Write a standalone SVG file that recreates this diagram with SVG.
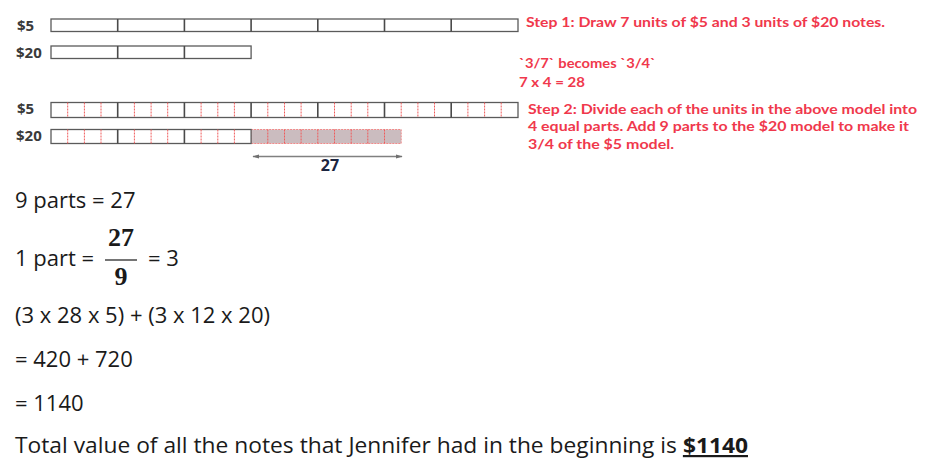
<svg xmlns="http://www.w3.org/2000/svg" width="927" height="468" viewBox="0 0 927 468">
<style>
.lbl{font-family:"Open Sans","Liberation Sans",sans-serif;font-weight:bold;font-size:15px;fill:#3a3a3a}
.bar{fill:#fff;stroke:#5a5a5a;stroke-width:1.3}
.div{stroke:#4a4a4a;stroke-width:1.6}
.q{stroke:#f05a5a;stroke-width:1;stroke-dasharray:2 1}
.red{font-family:Lato,"Liberation Sans",sans-serif;font-weight:bold;font-size:14px;fill:#f0384c}
.body{font-family:"Open Sans","Liberation Sans",sans-serif;font-size:22px;fill:#1a1a1a}
.math{font-family:"Liberation Serif",serif;font-weight:bold;font-size:26px;fill:#1a1a1a}
</style>
<defs>
<marker id="ah" viewBox="0 0 10 10" refX="9" refY="5" markerWidth="7" markerHeight="7" orient="auto-start-reverse" markerUnits="userSpaceOnUse">
<path d="M0,2 L10,5 L0,8 Z" fill="#707070"/>
</marker>
</defs>

<g id="step1-five">
<text class="lbl" x="17" y="31">$5</text>
<rect class="bar" x="51" y="19" width="467" height="12.5"/>
<path class="div" d="M117.7 19V31.5M184.4 19V31.5M251.1 19V31.5M317.8 19V31.5M384.5 19V31.5M451.2 19V31.5"/>
</g>

<g id="step1-twenty">
<text class="lbl" x="16" y="58">$20</text>
<rect class="bar" x="51" y="46" width="200.1" height="12.5"/>
<path class="div" d="M117.7 46V58.5M184.4 46V58.5"/>
</g>

<g id="step1-text">
<text class="red" x="526" y="26.5" textLength="359" lengthAdjust="spacingAndGlyphs">Step 1: Draw 7 units of $5 and 3 units of $20 notes.</text>
<text class="red" x="519" y="68" textLength="137" lengthAdjust="spacingAndGlyphs">`3/7` becomes `3/4`</text>
<text class="red" x="519" y="87" textLength="66" lengthAdjust="spacingAndGlyphs">7 x 4 = 28</text>
</g>

<g id="step2-five">
<text class="lbl" x="17" y="114">$5</text>
<rect class="bar" x="51" y="102.5" width="467" height="15"/>
<path class="q" d="M67.7 102.5V117.5M84.4 102.5V117.5M101 102.5V117.5M134.4 102.5V117.5M151.1 102.5V117.5M167.7 102.5V117.5M201.1 102.5V117.5M217.8 102.5V117.5M234.4 102.5V117.5M267.8 102.5V117.5M284.5 102.5V117.5M301.1 102.5V117.5M334.5 102.5V117.5M351.2 102.5V117.5M367.8 102.5V117.5M401.2 102.5V117.5M417.9 102.5V117.5M434.5 102.5V117.5M467.9 102.5V117.5M484.6 102.5V117.5M501.2 102.5V117.5"/>
<path class="div" d="M117.7 102.5V117.5M184.4 102.5V117.5M251.1 102.5V117.5M317.8 102.5V117.5M384.5 102.5V117.5M451.2 102.5V117.5"/>
</g>

<g id="step2-twenty">
<text class="lbl" x="16" y="141">$20</text>
<rect x="251.1" y="129.5" width="150.1" height="14" fill="#cbbcbf" stroke="#f08a8a" stroke-width="1" stroke-dasharray="2 1"/>
<path class="q" d="M267.8 129.5V143.5M284.5 129.5V143.5M301.1 129.5V143.5M317.8 129.5V143.5M334.5 129.5V143.5M351.2 129.5V143.5M367.8 129.5V143.5M384.5 129.5V143.5"/>
<rect class="bar" x="51" y="129.5" width="200.1" height="14"/>
<path class="q" d="M67.7 129.5V143.5M84.4 129.5V143.5M101 129.5V143.5M134.4 129.5V143.5M151.1 129.5V143.5M167.7 129.5V143.5M201.1 129.5V143.5M217.8 129.5V143.5M234.4 129.5V143.5"/>
<path class="div" d="M117.7 129.5V143.5M184.4 129.5V143.5"/>
</g>

<g id="connectors">
<line x1="253" y1="156.5" x2="402" y2="156.5" stroke="#808080" stroke-width="1.3" marker-start="url(#ah)" marker-end="url(#ah)"/>
</g>
<text x="330" y="171" text-anchor="middle" font-family="'Open Sans','Liberation Sans',sans-serif" font-weight="bold" font-size="16px" fill="#1c2540">27</text>

<g id="step2-text">
<text class="red" x="528" y="113.5" textLength="389" lengthAdjust="spacingAndGlyphs">Step 2: Divide each of the units in the above model into</text>
<text class="red" x="528" y="131" textLength="381" lengthAdjust="spacingAndGlyphs">4 equal parts. Add 9 parts to the $20 model to make it</text>
<text class="red" x="528" y="148.5" textLength="146" lengthAdjust="spacingAndGlyphs">3/4 of the $5 model.</text>
</g>

<g id="working">
<text class="body" x="15" y="208">9 parts = 27</text>
<text class="body" x="15" y="266">1 part =</text>
<text class="math" x="121" y="246" text-anchor="middle">27</text>
<line x1="105" y1="260" x2="137" y2="260" stroke="#1a1a1a" stroke-width="1.2"/>
<text class="math" x="121" y="285" text-anchor="middle">9</text>
<text class="body" x="148" y="266">= 3</text>
<text class="body" x="15" y="323">(3 x 28 x 5) + (3 x 12 x 20)</text>
<text class="body" x="15" y="367">= 420 + 720</text>
<text class="body" x="15" y="411">= 1140</text>
<text class="body" x="15" y="453" textLength="733" lengthAdjust="spacingAndGlyphs">Total value of all the notes that Jennifer had in the beginning is <tspan font-weight="bold" text-decoration="underline">$1140</tspan></text>
</g>
</svg>
